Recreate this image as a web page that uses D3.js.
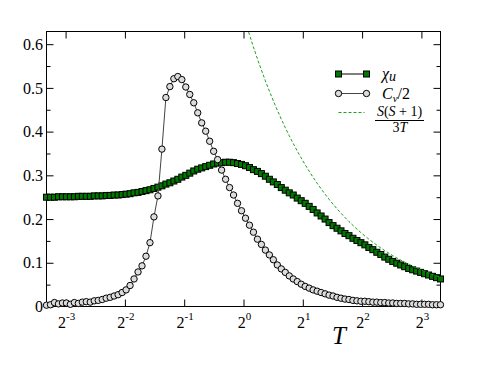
<!DOCTYPE html>
<html><head><meta charset="utf-8">
<script src="https://cdn.jsdelivr.net/npm/d3@7/dist/d3.min.js"></script>
<style>
body{margin:0;background:#fff;}
svg{display:block;}
svg text{font-family:"Times New Roman",serif !important;fill:#000;}
</style></head><body>
<svg id="chart" width="485" height="374" font-family="Times New Roman, serif"></svg>
<script>
// Temperature grid (log-spaced)
const T = [0.1,0.10476,0.10975,0.11498,0.12045,0.12619,0.13219,0.13849,0.14508,0.15199,
0.15923,0.16681,0.17475,0.18307,0.19179,0.20092,0.21049,0.22051,0.23101,0.24201,
0.25354,0.26561,0.27826,0.29151,0.30539,0.31993,0.33516,0.35112,0.36784,0.38535,
0.40370,0.42292,0.44306,0.46416,0.48626,0.50941,0.53367,0.55908,0.58570,0.61359,
0.64281,0.67342,0.70548,0.73907,0.77426,0.81113,0.84975,0.89022,0.93260,0.97701,
1.02353,1.07227,1.12332,1.17681,1.23285,1.29155,1.35305,1.41747,1.48497,1.55568,
1.62975,1.70735,1.78865,1.87382,1.96304,2.05651,2.15443,2.25702,2.36449,2.47708,
2.59502,2.71859,2.84804,2.98365,3.12572,3.27455,3.43047,3.59381,3.76494,3.94421,
4.13201,4.32876,4.53488,4.75081,4.97702,5.21401,5.46228,5.72237,5.99484,6.28029,
6.57933,6.89261,7.22081,7.56463,7.92483,8.30218,8.69749,9.11163,9.54548,10.0];

// chi_u series
const chiU = [0.250,0.250,0.250,0.251,0.251,0.251,0.251,0.251,0.252,0.252,
0.252,0.252,0.253,0.253,0.253,0.254,0.254,0.255,0.255,0.256,
0.257,0.258,0.260,0.261,0.263,0.265,0.267,0.270,0.273,0.276,
0.280,0.283,0.287,0.291,0.296,0.300,0.305,0.310,0.314,0.317,
0.320,0.323,0.326,0.328,0.329,0.330,0.330,0.329,0.327,0.325,
0.322,0.318,0.313,0.309,0.304,0.298,0.291,0.285,0.279,0.272,
0.266,0.260,0.255,0.248,0.242,0.236,0.229,0.222,0.214,0.207,
0.200,0.192,0.185,0.179,0.173,0.167,0.162,0.156,0.151,0.146,
0.141,0.135,0.130,0.124,0.119,0.113,0.108,0.103,0.099,0.095,
0.091,0.087,0.084,0.081,0.078,0.075,0.072,0.069,0.066,0.063];

// Cv/2 series
const cvHalf = [0.003,0.004,0.009,0.006,0.008,0.008,0.005,0.009,0.007,0.010,
0.011,0.010,0.013,0.014,0.016,0.019,0.021,0.024,0.027,0.032,
0.038,0.048,0.063,0.079,0.093,0.115,0.146,0.205,0.253,0.360,
0.478,0.503,0.521,0.526,0.519,0.502,0.485,0.466,0.443,0.420,
0.401,0.378,0.355,0.336,0.312,0.291,0.272,0.255,0.236,0.219,
0.202,0.186,0.170,0.154,0.142,0.129,0.118,0.107,0.095,0.086,
0.078,0.070,0.063,0.057,0.051,0.046,0.042,0.038,0.035,0.032,
0.029,0.026,0.024,0.021,0.019,0.017,0.016,0.014,0.013,0.012,
0.012,0.011,0.010,0.010,0.009,0.009,0.008,0.008,0.007,0.007,
0.007,0.006,0.006,0.005,0.005,0.005,0.005,0.004,0.004,0.004];

// Curie law S(S+1)/(3T), S=1, sampled on T[49..99]
const curieStart = 49;
const curie = [0.68236,0.65134,0.62173,0.59348,0.56650,0.54075,0.51617,0.49271,0.47032,0.44894,
0.42854,0.40906,0.39047,0.37272,0.35578,0.33961,0.32418,0.30944,0.29538,0.28195,
0.26914,0.25690,0.24522,0.23408,0.22344,0.21328,0.20359,0.19434,0.18551,0.17707,
0.16902,0.16134,0.15401,0.14701,0.14033,0.13395,0.12786,0.12205,0.11650,0.11121,
0.10615,0.10133,0.09672,0.09233,0.08813,0.08412,0.08030,0.07665,0.07317,0.06984,0.06667];

const xTickExp = [-3,-2,-1,0,1,2,3];
const yTicks = [0,0.1,0.2,0.3,0.4,0.5,0.6];
const yMinor = [0.05,0.15,0.25,0.35,0.45,0.55];

const SERIF = "Times New Roman, serif";
const L = 46.5, R = 440.5, TOP = 31.5, BOT = 306.5;
const svg = d3.select("#chart");
const x = d3.scaleLog().base(2).domain([0.1, 10]).range([L, R]);
const y = d3.scaleLinear().domain([0, 0.629]).range([BOT, TOP]);

const defs = svg.append("defs");
defs.append("clipPath").attr("id","clip")
  .append("rect").attr("x",L-4).attr("y",TOP).attr("width",R-L+8).attr("height",BOT-TOP+4);
defs.append("clipPath").attr("id","clipTop")
  .append("rect").attr("x",L).attr("y",TOP).attr("width",R-L).attr("height",BOT-TOP);

// axes
const fmtY = d => d === 0 ? "0" : d3.format(".1f")(d);
const gl = svg.append("g").attr("transform",`translate(${L},0)`)
  .call(d3.axisLeft(y).tickValues(yTicks).tickSize(-7).tickPadding(3.5).tickFormat(fmtY));
svg.append("g").attr("transform",`translate(${L},0)`)
  .call(d3.axisLeft(y).tickValues(yMinor).tickSize(-4).tickFormat(""));
svg.append("g").attr("transform",`translate(${R},0)`)
  .call(d3.axisRight(y).tickValues(yTicks).tickSize(-7).tickFormat(""));
svg.append("g").attr("transform",`translate(${R},0)`)
  .call(d3.axisRight(y).tickValues(yMinor).tickSize(-4).tickFormat(""));
const xt = xTickExp.map(e => Math.pow(2, e));
svg.append("g").attr("transform",`translate(0,${BOT})`)
  .call(d3.axisBottom(x).tickValues(xt).tickSize(-7).tickFormat(""));
svg.append("g").attr("transform",`translate(0,${TOP})`)
  .call(d3.axisTop(x).tickValues(xt).tickSize(-7).tickFormat(""));
svg.selectAll(".domain").remove();
svg.selectAll("g").attr("font-family", SERIF);
svg.selectAll(".tick line").attr("stroke","#000").attr("stroke-width",1);
gl.selectAll(".tick text").attr("font-size",16).attr("font-family",SERIF);

// frame
svg.append("rect").attr("x",L).attr("y",TOP).attr("width",R-L).attr("height",BOT-TOP)
  .attr("fill","none").attr("stroke","#000").attr("stroke-width",1);

// x tick labels with superscripts
const xl = svg.append("g").attr("font-family", SERIF);
xTickExp.forEach(e => {
  const t = xl.append("text").attr("x", x(Math.pow(2,e)) + 1).attr("y", 328)
    .attr("text-anchor","middle").attr("font-size",16).attr("font-family",SERIF);
  t.append("tspan").text("2");
  t.append("tspan").attr("dy",-8).attr("font-size",11).text(String(e));
});

// axis label
svg.append("text").attr("x",339).attr("y",344).attr("text-anchor","middle")
  .attr("font-family",SERIF).attr("font-size",25).attr("font-style","italic").text("T");

const plot = svg.append("g").attr("clip-path","url(#clip)");
const pts = T.map((t,i)=>({t, chi: chiU[i], cv: cvHalf[i]}));

// chi series
plot.append("path").datum(pts)
  .attr("d", d3.line().x(d=>x(d.t)).y(d=>y(d.chi)))
  .attr("fill","none").attr("stroke","#000").attr("stroke-width",1);
const sq = 6;
plot.selectAll("rect.chi").data(pts).join("rect").attr("class","chi")
  .attr("x", d=>x(d.t)-sq/2).attr("y", d=>y(d.chi)-sq/2)
  .attr("width",sq).attr("height",sq)
  .attr("fill","#007800").attr("stroke","#000").attr("stroke-width",1);

// Cv/2 series
plot.append("path").datum(pts)
  .attr("d", d3.line().x(d=>x(d.t)).y(d=>y(d.cv)))
  .attr("fill","none").attr("stroke","#444").attr("stroke-width",1);
plot.selectAll("circle.cv").data(pts).join("circle").attr("class","cv")
  .attr("cx", d=>x(d.t)).attr("cy", d=>y(d.cv)).attr("r",3.2)
  .attr("fill","#dcdcdc").attr("stroke","#000").attr("stroke-width",1);

// Curie law
const cpts = curie.map((v,i)=>({t:T[curieStart+i], v}));
svg.append("path").datum(cpts).attr("clip-path","url(#clipTop)")
  .attr("d", d3.line().x(d=>x(d.t)).y(d=>y(d.v)))
  .attr("fill","none").attr("stroke","#1f9e1f").attr("stroke-width",1)
  .attr("stroke-dasharray","3,2");

// legend
const lg = svg.append("g").attr("font-family", SERIF);
const lx1 = 338.5, lx2 = 366.5;
lg.append("line").attr("x1",lx1).attr("x2",lx2).attr("y1",74).attr("y2",74).attr("stroke","#000");
[lx1,lx2].forEach(cx => lg.append("rect").attr("x",cx-3).attr("y",71).attr("width",6).attr("height",6)
  .attr("fill","#007800").attr("stroke","#000"));
lg.append("line").attr("x1",lx1).attr("x2",lx2).attr("y1",93.5).attr("y2",93.5).attr("stroke","#444");
[lx1,lx2].forEach(cx => lg.append("circle").attr("cx",cx).attr("cy",93.5).attr("r",3.2)
  .attr("fill","#dcdcdc").attr("stroke","#000"));
lg.append("line").attr("x1",lx1).attr("x2",lx2-2).attr("y1",112.5).attr("y2",112.5)
  .attr("stroke","#1f9e1f").attr("stroke-dasharray","3,2");

const t1 = lg.append("text").attr("x",382).attr("y",79).attr("font-size",16).attr("font-style","italic");
t1.append("tspan").text("χ");
t1.append("tspan").attr("dy",2).attr("font-size",14).text("u");
const t2 = lg.append("text").attr("x",382).attr("y",98.5).attr("font-size",16).attr("font-style","italic");
t2.append("tspan").text("C");
t2.append("tspan").attr("dy",3).attr("font-size",11).text("v");
t2.append("tspan").attr("dy",-3).attr("font-style","normal").text("/2");
const num = lg.append("text").attr("x",399.5).attr("y",116).attr("text-anchor","middle").attr("font-size",14);
num.append("tspan").attr("font-style","italic").text("S");
num.append("tspan").text("(");
num.append("tspan").attr("font-style","italic").text("S");
num.append("tspan").text(" + 1)");
lg.append("line").attr("x1",375).attr("x2",424).attr("y1",120.5).attr("y2",120.5).attr("stroke","#000");
const den = lg.append("text").attr("x",400).attr("y",132).attr("text-anchor","middle").attr("font-size",14);
den.append("tspan").text("3");
den.append("tspan").attr("font-style","italic").text("T");
</script>
</body></html>
